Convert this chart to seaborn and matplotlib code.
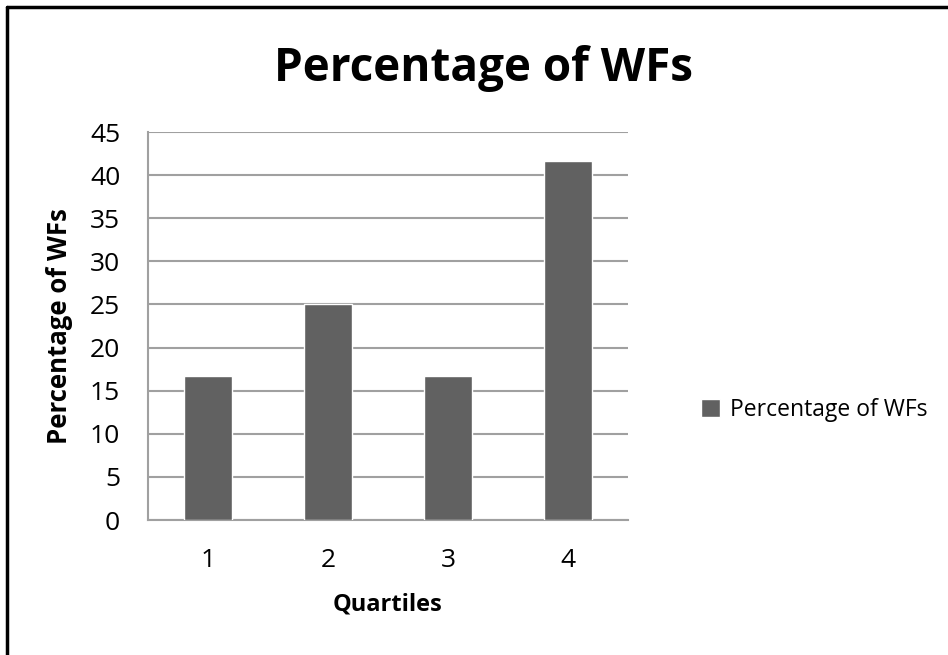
import matplotlib
matplotlib.use("Agg")
import matplotlib.pyplot as plt
import seaborn as sns
import pandas as pd
from matplotlib.lines import Line2D

quartiles = ["1", "2", "3", "4"]
pct_wfs = [16.67, 25.0, 16.67, 41.67]
y_ticks = [0, 5, 10, 15, 20, 25, 30, 35, 40, 45]
series_name = "Percentage of WFs"

sns.set_style("white")
plt.rcParams["font.family"] = ["Open Sans", "DejaVu Sans"]
plt.rcParams["text.color"] = "black"
plt.rcParams["axes.labelcolor"] = "black"
plt.rcParams["xtick.labelcolor"] = "black"
plt.rcParams["ytick.labelcolor"] = "black"

df = pd.DataFrame({"Quartiles": quartiles, series_name: pct_wfs})

fig = plt.figure(figsize=(9.48, 6.55), dpi=100)
W, H = 948, 655
ax = fig.add_axes([148 / W, 1 - 520 / H, (628 - 148) / W, (520 - 132) / H])

bar_color = "#616161"
grid_color = "#A0A0A0"

sns.barplot(data=df, x="Quartiles", y=series_name, color=bar_color,
            width=0.4, saturation=1, ax=ax, label=series_name, zorder=3)

ax.set_ylim(0, 45)
ax.set_xlim(-0.5, 3.5)
ax.set_yticks(y_ticks)
ax.yaxis.grid(True, color=grid_color, linewidth=1.5, zorder=0)
ax.set_axisbelow(True)
for side in ["top", "right"]:
    ax.spines[side].set_visible(False)
ax.spines["left"].set_color(grid_color)
ax.spines["left"].set_linewidth(1.5)
ax.spines["bottom"].set_color(grid_color)
ax.spines["bottom"].set_linewidth(1.5)
ax.tick_params(axis="y", length=8, width=1.5, color=grid_color, direction="out",
               labelsize=19, pad=12, labelcolor="black")
ax.tick_params(axis="x", length=0, labelsize=19, pad=20, labelcolor="black")

ax.set_xlabel("Quartiles", fontsize=17, fontweight="bold", labelpad=14, color="black")
ax.set_ylabel(series_name, fontsize=18.5, fontweight="bold", labelpad=12, color="black")

fig.text(484 / W, 1 - 68 / H, "Percentage of WFs", fontsize=33, fontweight="bold",
         ha="center", va="center", color="black")

handles, labels = ax.get_legend_handles_labels()
leg = fig.legend(handles, labels, loc="center left", bbox_to_anchor=(692 / W, 1 - 410 / H),
                 frameon=False, fontsize=16.5, handlelength=0.8, handleheight=0.8,
                 handletextpad=0.45, borderaxespad=0, labelcolor="black")
if ax.get_legend() is not None:
    ax.get_legend().remove()

# frame edges along the top and left of the figure
fig.add_artist(Line2D([7 / W, 1.0], [1 - 7 / H, 1 - 7 / H], color="black", linewidth=2.5,
                      transform=fig.transFigure))
fig.add_artist(Line2D([7 / W, 7 / W], [0.0, 1 - 7 / H], color="black", linewidth=2.5,
                      transform=fig.transFigure))

fig.savefig("out.png", dpi=100)
